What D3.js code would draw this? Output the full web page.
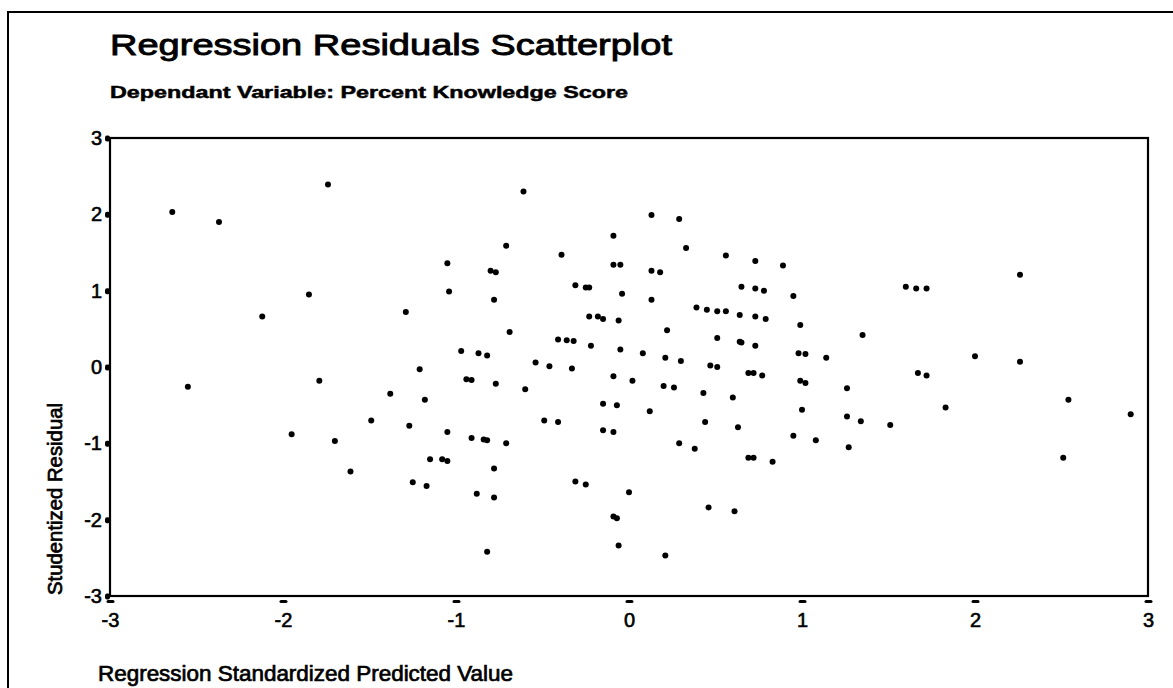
<!DOCTYPE html>
<html>
<head>
<meta charset="utf-8">
<script src="https://cdn.jsdelivr.net/npm/d3@7"></script>
<style>
  body { margin: 0; background: #fff; }
  text { font-family: "Liberation Sans", Arial, sans-serif; fill: #000; }
</style>
</head>
<body>
<div id="chart"></div>
<script>
// regression standardized predicted value
var predicted = [
  -2.64, -2.37, -1.74, -1.85, -2.12, -2.55, -1.79, -1.95, -1.70,
  -0.61, -0.09, -0.71, -0.39, -1.05, -0.80, -0.77, -0.09, -0.05, -0.31,
  -0.25, -0.23, -1.04, -0.78, -0.04, -1.29, -0.23, -0.18, -0.15, -0.06,
  -0.69, -0.41, -0.36, -0.32, -0.22, -0.05, -0.97, -0.87, -0.82, -0.54,
  -0.46, -0.33, -1.21, -0.09, -0.94, -0.91, -0.77, -0.60, -1.38, -1.18,
  -0.15, -0.07, -1.49, -0.49, -0.41, -1.27, -1.05, -0.91, -0.84, -0.82,
  -0.71, -0.15, -0.09, -1.15, -1.08, -1.05, -1.61, -0.78, -1.25, -1.17,
  -0.31, -0.25, -0.88, -0.78, -0.09, -0.07, -0.06, -0.82,
  0.13, 0.29, 0.33, 0.56, 0.73, 0.89, 0.13, 0.18, 0.65, 0.73, 0.78, 0.95,
  0.13, 0.39, 0.45, 0.51, 0.56, 0.64, 0.73, 0.79, 0.99, 0.22, 1.35, 0.51,
  0.64, 0.65, 0.73, 0.08, 0.21, 0.30, 0.98, 1.02, 1.14, 0.47, 0.51, 0.02,
  0.69, 0.72, 0.77, 0.20, 0.26, 0.99, 1.02, 0.43, 0.60, 1.26,
  0.12, 1.00, 1.26, 1.34, 1.51, 0.44, 0.63, 0.95, 1.08, 1.27, 0.29, 0.38,
  0.69, 0.72, 0.83, 0.00, 0.46, 0.61, 0.21,
  1.60, 1.66, 1.72, 2.26, 2.00, 2.26, 1.67, 1.72, 2.54, 1.83, 2.90, 2.51
];

// studentized residual
var residual = [
  2.03, 1.90, 2.39, 0.95, 0.66, -0.26, -0.18, -0.88, -0.97,
  2.30, 1.72, 1.59, 1.47, 1.36, 1.26, 1.24, 1.34, 1.34, 1.07,
  1.04, 1.04, 0.99, 0.88, 0.96, 0.72, 0.66, 0.66, 0.63, 0.61,
  0.46, 0.36, 0.35, 0.34, 0.28, 0.23, 0.21, 0.18, 0.15, 0.06,
  0.01, -0.02, -0.03, -0.12, -0.16, -0.17, -0.22, -0.29, -0.35, -0.43,
  -0.48, -0.50, -0.70, -0.70, -0.72, -0.77, -0.85, -0.93, -0.95, -0.96,
  -1.00, -0.83, -0.85, -1.21, -1.21, -1.23, -1.37, -1.33, -1.51, -1.56,
  -1.50, -1.54, -1.66, -1.71, -1.96, -1.98, -2.34, -2.42,
  1.99, 1.94, 1.56, 1.46, 1.39, 1.33, 1.26, 1.24, 1.05, 1.03, 1.00, 0.93,
  0.88, 0.78, 0.75, 0.73, 0.73, 0.68, 0.66, 0.63, 0.55, 0.48, 0.42, 0.38,
  0.33, 0.32, 0.28, 0.18, 0.12, 0.08, 0.18, 0.17, 0.12, 0.02, 0.00, -0.18,
  -0.08, -0.08, -0.11, -0.25, -0.27, -0.18, -0.21, -0.34, -0.40, -0.28,
  -0.58, -0.56, -0.65, -0.71, -0.76, -0.72, -0.79, -0.90, -0.96, -1.05, -1.00, -1.07,
  -1.19, -1.19, -1.24, -1.64, -1.84, -1.89, -2.47,
  1.05, 1.03, 1.03, 1.21, 0.14, 0.07, -0.08, -0.11, -0.43, -0.53, -0.62, -1.19
];

var xTicks = [-3, -2, -1, 0, 1, 2, 3];
var yTicks = [-3, -2, -1, 0, 1, 2, 3];

var titleText = "Regression Residuals Scatterplot",
    subtitleText = "Dependant Variable: Percent Knowledge Score",
    xLabel = "Regression Standardized Predicted Value",
    yLabel = "Studentized Residual";

var W = 1173, H = 688,
    plot = {left: 110, right: 1148, top: 138, bottom: 596};

var svg = d3.select("#chart").append("svg")
  .attr("width", W).attr("height", H);

// scanned page frame
svg.append("path")
  .attr("d", "M8," + H + "V12H" + W)
  .attr("fill", "none").attr("stroke", "#000").attr("stroke-width", 2);

var x = d3.scaleLinear().domain([-3, 3]).range([plot.left, plot.right]);
var y = d3.scaleLinear().domain([-3, 3]).range([plot.bottom, plot.top]);

svg.append("text")
  .attr("x", 110).attr("y", 55)
  .attr("font-size", 29)
  .attr("textLength", 562).attr("lengthAdjust", "spacingAndGlyphs")
  .attr("stroke", "#000").attr("stroke-width", 0.9)
  .text(titleText);

svg.append("text")
  .attr("x", 110).attr("y", 98)
  .attr("font-size", 17).attr("font-weight", "bold")
  .attr("textLength", 518).attr("lengthAdjust", "spacingAndGlyphs")
  .attr("stroke", "#000").attr("stroke-width", 0.5)
  .text(subtitleText);

// x axis: labels and short tick dashes under the frame
var xAxis = svg.append("g")
  .attr("transform", "translate(0," + plot.bottom + ")")
  .call(d3.axisBottom(x).tickValues(xTicks).tickSize(0).tickPadding(17)
    .tickFormat(function(d){ return d; }));
xAxis.select(".domain").remove();
xAxis.selectAll("text")
  .attr("font-size", 20).attr("font-family", "Liberation Sans, Arial, sans-serif")
  .attr("stroke", "#000").attr("stroke-width", 0.6);
xAxis.selectAll(".tick").append("rect")
  .attr("x", -4).attr("y", 4).attr("width", 8).attr("height", 3)
  .attr("rx", 1.5).attr("fill", "#000");

var yAxis = svg.append("g")
  .attr("transform", "translate(" + plot.left + ",0)")
  .call(d3.axisLeft(y).tickValues(yTicks).tickSize(0).tickPadding(8)
    .tickFormat(function(d){ return d; }));
yAxis.select(".domain").remove();
yAxis.selectAll("text")
  .attr("font-size", 20).attr("font-family", "Liberation Sans, Arial, sans-serif")
  .attr("stroke", "#000").attr("stroke-width", 0.6);
yAxis.selectAll(".tick").append("rect")
  .attr("x", -5).attr("y", -3).attr("width", 5).attr("height", 6)
  .attr("rx", 2).attr("fill", "#000");

// plot frame
svg.append("rect")
  .attr("x", plot.left).attr("y", plot.top)
  .attr("width", plot.right - plot.left).attr("height", plot.bottom - plot.top)
  .attr("fill", "none").attr("stroke", "#000").attr("stroke-width", 2.2);

var pts = predicted.map(function(d, i){ return {x: d, y: residual[i]}; });

svg.append("g").selectAll("circle")
  .data(pts)
  .enter().append("circle")
    .attr("cx", function(d){ return x(d.x); })
    .attr("cy", function(d){ return y(d.y); })
    .attr("r", 3)
    .attr("fill", "#000");

svg.append("text")
  .attr("x", 98).attr("y", 681)
  .attr("font-size", 22)
  .attr("textLength", 415).attr("lengthAdjust", "spacingAndGlyphs")
  .attr("stroke", "#000").attr("stroke-width", 0.7)
  .text(xLabel);

svg.append("text")
  .attr("transform", "translate(62,499) rotate(-90)")
  .attr("text-anchor", "middle")
  .attr("font-size", 21)
  .attr("textLength", 192).attr("lengthAdjust", "spacingAndGlyphs")
  .attr("stroke", "#000").attr("stroke-width", 0.7)
  .text(yLabel);
</script>
</body>
</html>
